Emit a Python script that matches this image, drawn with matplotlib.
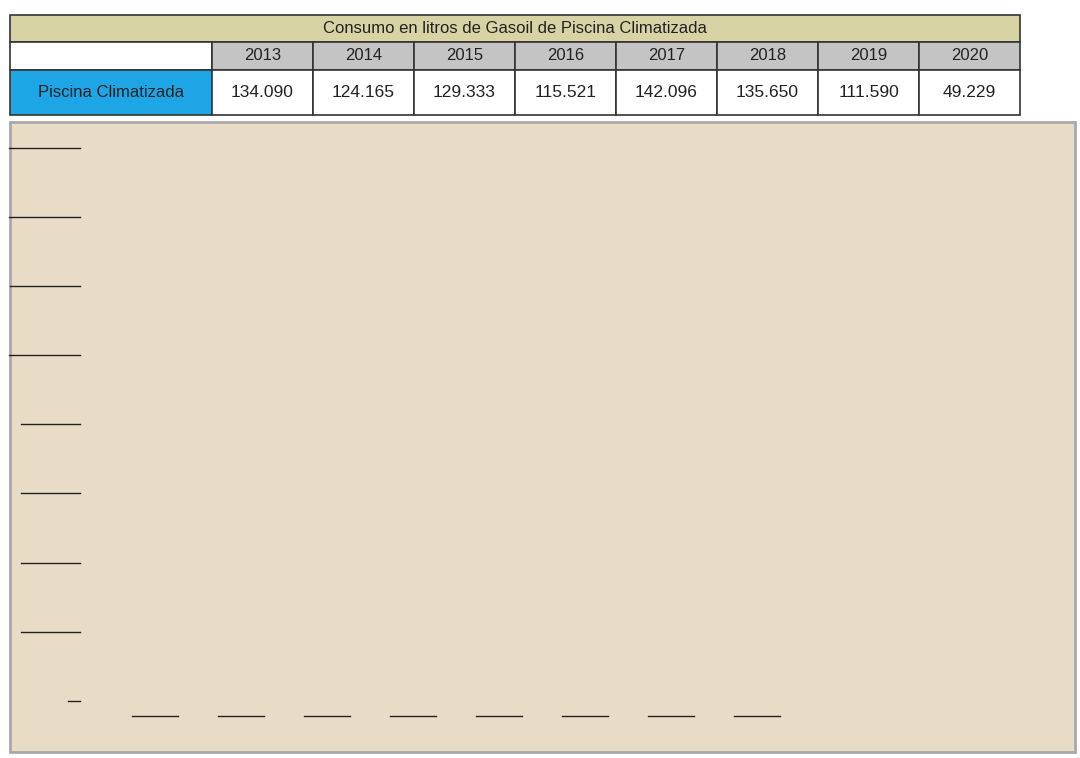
import matplotlib
matplotlib.use("Agg")
import matplotlib.pyplot as plt
from matplotlib.patches import Rectangle
from matplotlib.lines import Line2D

plt.rcParams["font.family"] = "Liberation Sans"

years = ["2013", "2014", "2015", "2016", "2017", "2018", "2019", "2020"]
litros = [134090, 124165, 129333, 115521, 142096, 135650, 111590, 49229]
litros_txt = ["134.090", "124.165", "129.333", "115.521", "142.096", "135.650", "111.590", "49.229"]
serie = "Piscina Climatizada"
titulo = "Consumo en litros de Gasoil de Piscina Climatizada"
yticks = [0, 20000, 40000, 60000, 80000, 100000, 120000, 140000, 160000]

W, H = 1080, 758
fig = plt.figure(figsize=(W / 100, H / 100), dpi=100)

def fx(x): return x / W
def fy(y): return 1 - y / H

def cell(x0, y0, x1, y1, color, text="", size=12):
    fig.patches.append(Rectangle((fx(x0), fy(y1)), fx(x1) - fx(x0), fy(y0) - fy(y1),
                                 transform=fig.transFigure, facecolor=color,
                                 edgecolor="#333333", lw=1.2))
    if text:
        fig.text(fx((x0 + x1) / 2), fy((y0 + y1) / 2), text, ha="center", va="center",
                 fontsize=size, color="#222222")

# table
cell(10, 15, 1020, 42, "#d8d3a5", titulo, 12)
cell(10, 42, 212, 70, "white")
cell(10, 70, 212, 115, "#1ea5e6", serie, 12)
cw = (1020 - 212) / len(years)
for i, (y, t) in enumerate(zip(years, litros_txt)):
    x0 = 212 + i * cw
    cell(x0, 42, x0 + cw, 70, "#c4c4c4", y, 12)
    cell(x0, 70, x0 + cw, 115, "white", t, 12.5)

# chart background
fig.patches.append(Rectangle((fx(10), fy(752)), fx(1075) - fx(10), fy(122) - fy(752),
                             transform=fig.transFigure, facecolor="#e9dcc6",
                             edgecolor="#a9a9a9", lw=2))

ax = fig.add_axes([fx(88), fy(690), fx(800) - fx(88), fy(138) - fy(690)])
ax.set_facecolor("none")
x = list(range(len(years)))
ax.plot(x, litros, color="#4f7fbd", lw=1.5, marker="D", ms=4, label=serie)
ax.plot([0], [0], marker="s", ms=5, color="#c0504d", ls="none")
ax.set_xlim(-0.78, 7.5)
ax.set_ylim(0, 160000)
ax.set_yticks(yticks)
ax.set_yticklabels([str(v) for v in yticks], fontsize=15)
ax.set_xticks(x)
ax.set_xticklabels(years, fontsize=15)
ax.grid(axis="y", color="#888888", lw=1)
ax.tick_params(length=0, pad=6)
for s in ["top", "right", "left"]:
    ax.spines[s].set_visible(False)
ax.spines["bottom"].set_color("#888888")
ax.legend(loc="center left", bbox_to_anchor=(1.03, 0.455), frameon=False,
          fontsize=15, handlelength=0.8, handletextpad=0.1)

# underline tick labels
fig.canvas.draw()
r = fig.canvas.get_renderer()
for lab in ax.get_xticklabels() + ax.get_yticklabels():
    bb = lab.get_window_extent(r)
    yy = (bb.y0 + 1) / fig.bbox.height
    fig.add_artist(Line2D([bb.x0 / fig.bbox.width, bb.x1 / fig.bbox.width], [yy, yy],
                          transform=fig.transFigure, color="#222222", lw=1))

fig.savefig("out.png", dpi=100)
